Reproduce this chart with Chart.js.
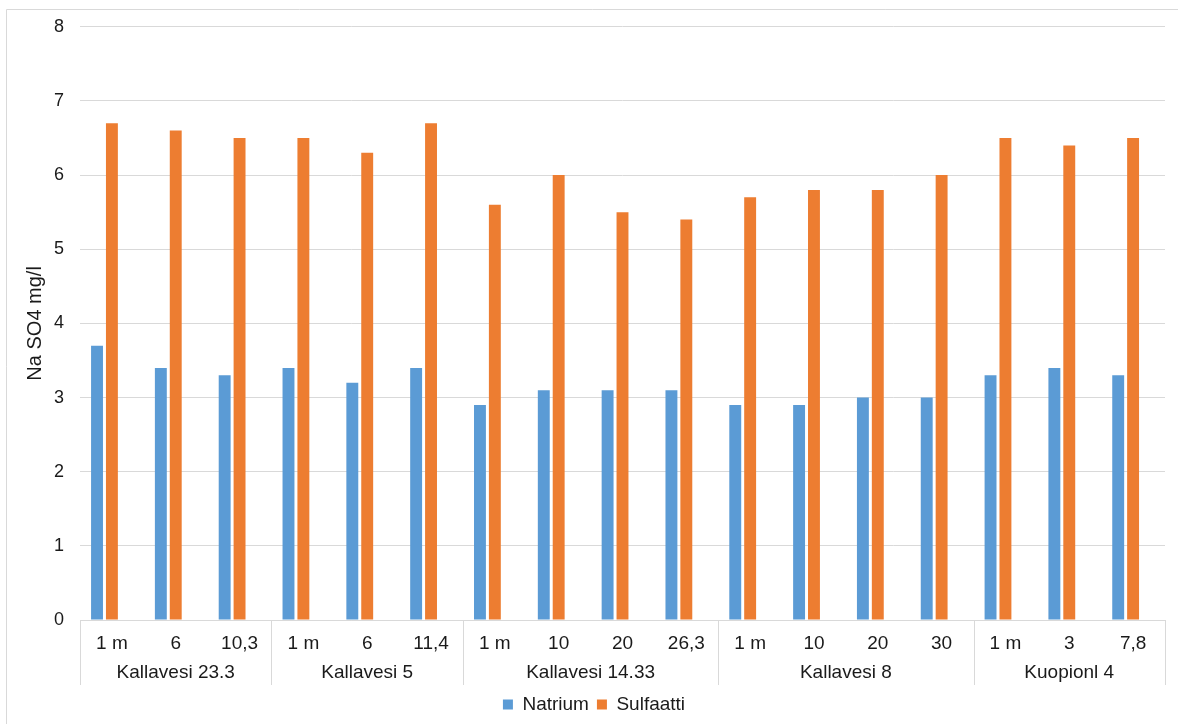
<!DOCTYPE html>
<html>
<head>
<meta charset="utf-8">
<script src="https://cdn.jsdelivr.net/npm/chart.js@4"></script>
<style>
  html, body { margin: 0; padding: 0; background: #fff; }
  #wrap { width: 1178px; height: 724px; position: relative; }
</style>
</head>
<body>
<div id="wrap"><canvas id="myChart" width="1178" height="724"></canvas></div>
<script>
// depths (sub labels) and sites (group labels)
const depths = ["1 m", "6", "10,3", "1 m", "6", "11,4", "1 m", "10", "20", "26,3", "1 m", "10", "20", "30", "1 m", "3", "7,8"];
const sites = ["Kallavesi 23.3", "Kallavesi 5", "Kallavesi 14.33", "Kallavesi 8", "Kuopionl 4"];
const siteSizes = [3, 3, 4, 4, 3];

const natrium = [3.7, 3.4, 3.3, 3.4, 3.2, 3.4, 2.9, 3.1, 3.1, 3.1, 2.9, 2.9, 3.0, 3.0, 3.3, 3.4, 3.3];
const sulfaatti = [6.7, 6.6, 6.5, 6.5, 6.3, 6.7, 5.6, 6.0, 5.5, 5.4, 5.7, 5.8, 5.8, 6.0, 6.5, 6.4, 6.5];
// the original sheet has a third, empty series that still takes a slot
const empty = depths.map(function () { return null; });

const FONT = "'Liberation Sans', Arial, sans-serif";
const TEXT = "#1a1a1a";
const gridColor = "#d9d9d9";

// group labels + separators under the category axis
const groupAxis = {
  id: "groupAxis",
  afterDraw(chart) {
    const ctx = chart.ctx;
    const x = chart.scales.x;
    const area = chart.chartArea;
    const half = (x.getPixelForValue(1) - x.getPixelForValue(0)) / 2;
    ctx.save();
    ctx.strokeStyle = gridColor;
    ctx.lineWidth = 1;
    let idx = 0;
    const edges = [x.getPixelForValue(0) - half];
    for (let g = 0; g < sites.length; g++) {
      const left = x.getPixelForValue(idx) - half;
      const right = x.getPixelForValue(idx + siteSizes[g] - 1) + half;
      edges.push(right);
      ctx.fillStyle = TEXT;
      ctx.font = "19px " + FONT;
      ctx.textAlign = "center";
      ctx.textBaseline = "middle";
      ctx.fillText(sites[g], (left + right) / 2, 673);
      idx += siteSizes[g];
    }
    edges.forEach(function (ex) {
      const px = Math.round(ex) + 0.5;
      ctx.beginPath();
      ctx.moveTo(px, area.bottom);
      ctx.lineTo(px, 685);
      ctx.stroke();
    });
    // outer chart border (top and left only visible)
    ctx.beginPath();
    ctx.moveTo(6.5, 724);
    ctx.lineTo(6.5, 9.5);
    ctx.lineTo(1178, 9.5);
    ctx.stroke();
    ctx.restore();
  }
};

const barOpts = { categoryPercentage: 0.7, barPercentage: 0.8 };

const data = {
  labels: depths,
  datasets: [
    Object.assign({ label: "Natrium", data: natrium, backgroundColor: "#5b9bd5" }, barOpts),
    Object.assign({ label: "Sulfaatti", data: sulfaatti, backgroundColor: "#ed7d31" }, barOpts),
    Object.assign({ label: "", data: empty, backgroundColor: "rgba(0,0,0,0)" }, barOpts),
  ],
};

const config = {
  type: "bar",
  data: data,
  options: {
    responsive: false,
    animation: false,
    layout: {
      padding: { left: 23, right: 13, top: 18, bottom: 0 },
    },
    scales: {
      x: {
        grid: { display: false },
        border: { display: true, color: gridColor, width: 1 },
        ticks: {
          color: TEXT,
          font: { size: 19, family: FONT },
          padding: 4,
          maxRotation: 0,
          autoSkip: false,
        },
        afterFit: function (scale) {
          scale.height = 67;
        },
      },
      y: {
        min: 0,
        max: 8,
        grid: { color: gridColor, drawTicks: false },
        border: { display: false },
        ticks: {
          stepSize: 1,
          color: TEXT,
          padding: 16,
          font: { size: 18, family: FONT },
        },
        title: {
          display: true,
          text: "Na SO4 mg/l",
          color: TEXT,
          padding: 0,
          font: { size: 20, family: FONT },
        },
        afterFit: function (scale) {
          scale.width = 57;
        },
      },
    },
    plugins: {
      legend: {
        position: "bottom",
        labels: {
          boxWidth: 10,
          boxHeight: 10,
          padding: 8,
          color: TEXT,
          font: { size: 19, family: FONT },
          filter: function (item) {
            return item.text !== "";
          },
        },
      },
      tooltip: { enabled: false },
    },
  },
  plugins: [groupAxis],
};

const myChart = new Chart(document.getElementById("myChart"), config);
</script>
</body>
</html>
